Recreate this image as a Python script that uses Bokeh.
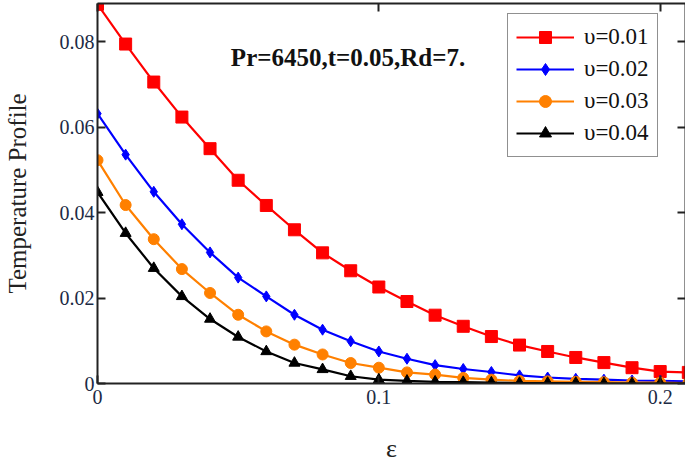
from bokeh.plotting import figure
from bokeh.models import (Range1d, FixedTicker, LinearAxis, Legend, LegendItem,
                          Label, CustomLabelingPolicy)
from bokeh.embed import file_html
from bokeh.resources import INLINE

# ---- data ----
eps = [0.00, 0.01, 0.02, 0.03, 0.04, 0.05, 0.06, 0.07, 0.08, 0.09, 0.10,
       0.11, 0.12, 0.13, 0.14, 0.15, 0.16, 0.17, 0.18, 0.19, 0.20, 0.21]
v001 = [0.0888, 0.0795, 0.0706, 0.0624, 0.0550, 0.0476, 0.0417, 0.0360, 0.0306, 0.0264, 0.0226,
        0.0192, 0.0160, 0.0134, 0.0110, 0.0090, 0.0075, 0.0061, 0.0049, 0.0037, 0.0028, 0.0026]
v002 = [0.0632, 0.0536, 0.0449, 0.0373, 0.0307, 0.0248, 0.0204, 0.0161, 0.0126, 0.0099, 0.0075,
        0.0058, 0.0043, 0.0034, 0.0027, 0.0019, 0.0014, 0.0011, 0.0009, 0.0007, 0.0006, 0.0005]
v003 = [0.0523, 0.0418, 0.0338, 0.0268, 0.0212, 0.0161, 0.0122, 0.0091, 0.0068, 0.0048, 0.0037,
        0.0026, 0.0021, 0.0013, 0.0009, 0.0006, 0.0005, 0.0004, 0.0003, 0.0002, 0.0002, 0.0001]
v004 = [0.0448, 0.0352, 0.0270, 0.0204, 0.0151, 0.0109, 0.0075, 0.0048, 0.0033, 0.0017, 0.0009,
        0.0006, 0.0004, 0.0003, 0.0002, 0.0001, 0.0001, 0.0001, 0.0000, 0.0000, 0.0000, 0.0000]
series_labels = ["υ=0.01", "υ=0.02", "υ=0.03", "υ=0.04"]
series_colors = ["#ff0000", "#0000ff", "#ff8000", "#000000"]
series_markers = ["square", "diamond", "circle", "triangle"]
x_ticks = [0, 0.1, 0.2]
y_ticks = [0, 0.02, 0.04, 0.06, 0.08]
x_tick_labels = {0: "0", 0.1: "0.1", 0.2: "0.2"}
y_tick_labels = {0: "0", 0.02: "0.02", 0.04: "0.04", 0.06: "0.06", 0.08: "0.08"}
annotation = "Pr=6450,t=0.05,Rd=7."
x_title = "ε"
y_title = "Temperature Profile"

FONT = "Liberation Serif"
TICK_COLOR = "#1c2a44"
AXIS_COLOR = "#222222"

p = figure(width=685, height=465, output_backend="svg", toolbar_location=None,
           x_range=Range1d(0, 0.209), y_range=Range1d(0, 0.089),
           min_border_left=97, min_border_right=0, min_border_top=3, min_border_bottom=10,
           x_axis_label=x_title, y_axis_label=y_title)
p.grid.visible = False
p.outline_line_color = None
p.background_fill_color = "white"
p.border_fill_color = "white"

for ax in p.xaxis:
    ax.ticker = FixedTicker(ticks=x_ticks)
    ax.major_label_overrides = x_tick_labels
for ax in p.yaxis:
    ax.ticker = FixedTicker(ticks=y_ticks)
    ax.major_label_overrides = y_tick_labels

for ax in list(p.xaxis) + list(p.yaxis):
    ax.axis_line_color = AXIS_COLOR
    ax.axis_line_width = 2
    ax.major_tick_in = 8
    ax.major_tick_out = 0
    ax.major_tick_line_color = AXIS_COLOR
    ax.major_tick_line_width = 2
    ax.minor_tick_line_color = None
    ax.major_label_text_font = FONT
    ax.major_label_text_font_size = "20px"
    ax.major_label_text_color = TICK_COLOR
    ax.axis_label_text_font = FONT
    ax.axis_label_text_font_style = "normal"
    ax.axis_label_text_color = "#222222"

p.xaxis.major_label_standoff = 6
p.xaxis.axis_label_text_font_size = "26px"
p.xaxis.axis_label_standoff = 27
p.yaxis.major_label_standoff = 3
p.yaxis.axis_label_text_font_size = "25px"
p.yaxis.axis_label_standoff = 26

# frame axes on top and right (ticks only, no labels)
no_labels = CustomLabelingPolicy(
    code="for (let i = 0; i < indices.size; i++) { indices.unset(i) } return indices")
top = LinearAxis(ticker=FixedTicker(ticks=x_ticks), major_label_policy=no_labels,
                 major_label_text_font_size="0px",
                 major_label_standoff=0, axis_line_color=AXIS_COLOR, axis_line_width=2,
                 major_tick_in=8, major_tick_out=0, major_tick_line_color=AXIS_COLOR,
                 major_tick_line_width=2, minor_tick_line_color=None)
right = LinearAxis(ticker=FixedTicker(ticks=y_ticks), major_label_policy=no_labels,
                   major_label_text_font_size="0px",
                   major_label_standoff=0, axis_line_color=AXIS_COLOR, axis_line_width=2,
                   major_tick_in=8, major_tick_out=0, major_tick_line_color=AXIS_COLOR,
                   major_tick_line_width=2, minor_tick_line_color=None)
p.add_layout(top, "above")
p.add_layout(right, "right")

items = []
sizes = [12, 11, 11, 11]
for ys, lab, col, mk, sz in zip([v001, v002, v003, v004], series_labels, series_colors,
                                series_markers, sizes):
    ln = p.line(eps, ys, line_color=col, line_width=2.2)
    sc = p.scatter(eps, ys, marker=mk, size=sz, fill_color=col, line_color=col)
    items.append(LegendItem(label=lab, renderers=[ln, sc]))

legend = Legend(items=items, location=(410, 226))
legend.margin = 0
legend.padding = 8
legend.spacing = 2
legend.glyph_width = 58
legend.glyph_height = 30
legend.label_height = 30
legend.label_standoff = 10
legend.label_text_font = FONT
legend.label_text_font_size = "23px"
legend.label_text_color = "#111111"
legend.border_line_color = "#222222"
legend.border_line_width = 1.5
legend.background_fill_color = "white"
legend.background_fill_alpha = 1.0
p.add_layout(legend, "center")

p.add_layout(Label(x=0.0474, y=0.0763, text=annotation, text_font=FONT,
                   text_font_size="25px", text_font_style="bold", text_color="#111111",
                   text_baseline="middle"))

open("out.html", "w").write(file_html(p, INLINE))
